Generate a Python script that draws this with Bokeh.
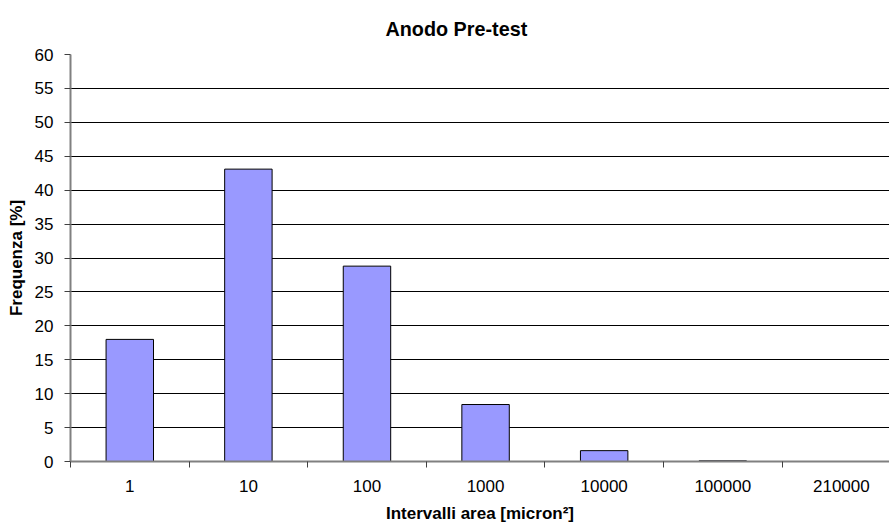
from bokeh.plotting import figure
from bokeh.models import Range1d, FixedTicker, Title, ColumnDataSource
from bokeh.embed import file_html
from bokeh.resources import INLINE

categories = ["1", "10", "100", "1000", "10000", "100000", "210000"]
values = [18.0, 43.1, 28.8, 8.4, 1.6, 0.1, 0.0]
y_ticks = list(range(0, 61, 5))

centers = [i + 0.5 for i in range(len(categories))]
bounds = list(range(0, len(categories) + 1))

FONT = "Liberation Sans"

p = figure(width=889, height=526, output_backend="svg", toolbar_location=None,
           x_range=Range1d(0, 6.906), y_range=Range1d(0, 60),
           min_border_left=70, min_border_right=0, min_border_top=54, min_border_bottom=65)
p.outline_line_color = None
p.background_fill_color = "white"

src = ColumnDataSource(dict(x=centers, top=values, cat=categories))
p.vbar(x="x", top="top", width=0.4, source=src, fill_color="#9999FF",
       line_color="black", line_width=1)

# x axis
p.xaxis.ticker = FixedTicker(ticks=centers, minor_ticks=bounds)
p.xaxis.major_label_overrides = {c: lab for c, lab in zip(centers, categories)}
p.xaxis.major_tick_line_color = None
p.xaxis.major_tick_out = 6
p.xaxis.major_tick_in = 0
p.xaxis.minor_tick_out = 6
p.xaxis.minor_tick_in = 0
p.xaxis.minor_tick_line_color = "#404040"
p.xaxis.minor_tick_line_width = 1
p.xaxis.major_label_standoff = 12
p.xaxis.axis_label = "Intervalli area [micron²]"
p.xaxis.axis_label_standoff = 9

# y axis
p.yaxis.ticker = FixedTicker(ticks=y_ticks)
p.yaxis.minor_tick_line_color = None
p.yaxis.major_tick_out = 6
p.yaxis.major_tick_in = 0
p.yaxis.major_tick_line_color = "#404040"
p.yaxis.major_label_standoff = 11
p.yaxis.axis_label = "Frequenza [%]"
p.yaxis.axis_label_standoff = 6

for ax in (p.xaxis, p.yaxis):
    ax.axis_line_color = "#808080"
    ax.axis_line_width = 2
    ax.major_label_text_font = FONT
    ax.major_label_text_font_size = "17px"
    ax.major_label_text_color = "black"
    ax.axis_label_text_font = FONT
    ax.axis_label_text_font_size = "17px"
    ax.axis_label_text_font_style = "bold"
    ax.axis_label_text_color = "black"

p.xgrid.grid_line_color = None
p.ygrid.grid_line_color = "black"
p.ygrid.grid_line_width = 1

p.title = Title(text="Anodo Pre-test", align="left", offset=315, standoff=30,
                text_font=FONT, text_font_size="19.8px", text_font_style="bold",
                text_color="black")

open("out.html", "w").write(file_html(p, INLINE))
